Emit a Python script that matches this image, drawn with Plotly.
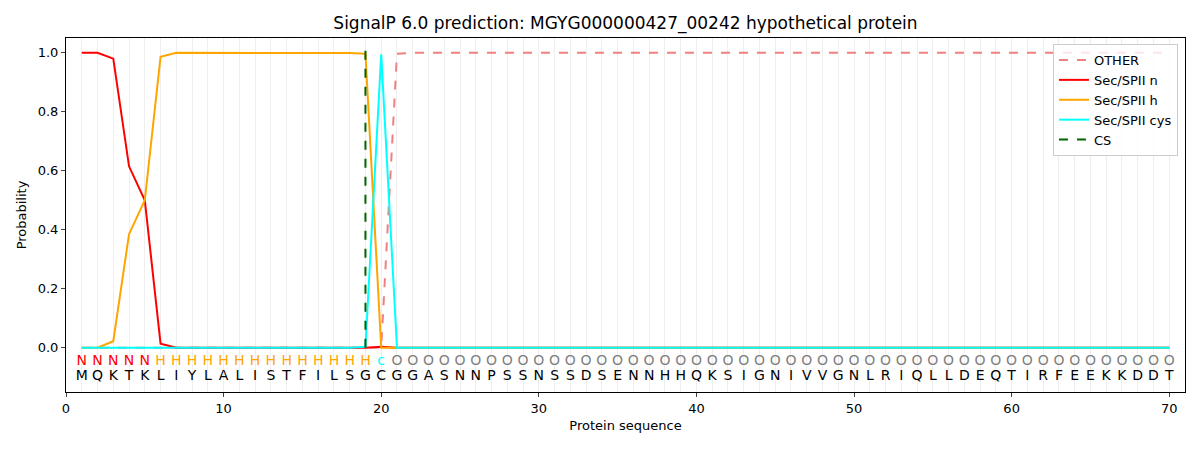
import numpy as np
import plotly.graph_objects as go

# sequence and per-residue region labels
sequence = list("MQKTKLIYLALISTFILSGCGGASNNPSSNSSDSENNHHQKSIGNIVVGNLRIQLLDEQTIRFEEKKDDT")
regions = list("NNNNN" + "H" * 14 + "c" + "O" * 50)
positions = list(range(1, len(sequence) + 1))

# probabilities
p_n = [1.0, 1.0, 0.98, 0.615, 0.50, 0.014] + [0.0] * 13 + [0.003] + [0.0] * 50
p_h = [0.0, 0.0, 0.022, 0.385, 0.50, 0.986] + [1.0] * 11 + [0.999, 0.997] + [0.0] * 51
p_cys = [0.0] * 18 + [0.003, 0.995] + [0.0] * 50
p_other = [0.0] * 20 + [0.997] + [1.0] * 49
cs_pos = 19

region_colors = {"N": "red", "H": "orange", "c": "cyan", "O": "gray"}

fig = go.Figure()

fig.add_trace(go.Scatter(x=positions, y=p_other, mode="lines", name="OTHER",
                         line=dict(color="#f08080", width=2, dash="dash")))
fig.add_trace(go.Scatter(x=positions, y=p_n, mode="lines", name="Sec/SPII n",
                         line=dict(color="red", width=2)))
fig.add_trace(go.Scatter(x=positions, y=p_h, mode="lines", name="Sec/SPII h",
                         line=dict(color="orange", width=2)))
fig.add_trace(go.Scatter(x=positions, y=p_cys, mode="lines", name="Sec/SPII cys",
                         line=dict(color="cyan", width=2)))
fig.add_trace(go.Scatter(x=[cs_pos, cs_pos], y=[0, 1.035], mode="lines", name="CS",
                         line=dict(color="darkgreen", width=2, dash="dash")))

# letters under the curves
fig.add_trace(go.Scatter(x=positions, y=[-0.045] * len(regions), mode="text",
                         text=regions, showlegend=False, hoverinfo="skip",
                         textfont=dict(size=14, family="DejaVu Sans",
                                       color=[region_colors[r] for r in regions])))
fig.add_trace(go.Scatter(x=positions, y=[-0.097] * len(sequence), mode="text",
                         text=sequence, showlegend=False, hoverinfo="skip",
                         textfont=dict(size=14, family="DejaVu Sans", color="black")))

# the page body adds an 8px offset, so margins are shifted to compensate
fig.update_layout(
    width=1200, height=450,
    margin=dict(l=58, r=23, t=30, b=66, autoexpand=False),
    paper_bgcolor="white", plot_bgcolor="white",
    font=dict(family="DejaVu Sans", size=13, color="black"),
    title=dict(text="SignalP 6.0 prediction: MGYG000000427_00242 hypothetical protein",
               x=0.5, xref="paper", xanchor="center", y=0.967, yref="container",
               yanchor="middle", font=dict(size=17)),
    legend=dict(x=0.9937, y=0.983, xanchor="right", yanchor="top",
                bgcolor="rgba(255,255,255,0.8)", bordercolor="#cccccc", borderwidth=1,
                font=dict(size=13), tracegroupgap=0, itemwidth=30),
    showlegend=True,
)

fig.update_xaxes(range=[0, 71], tickvals=[0, 10, 20, 30, 40, 50, 60, 70],
                 automargin=False,
                 showline=True, linecolor="black", linewidth=1, mirror=True,
                 ticks="outside", ticklen=4, tickfont=dict(size=13),
                 showgrid=True, gridcolor="#eeeeee", gridwidth=1,
                 minor=dict(tick0=0, dtick=1, showgrid=True, gridcolor="#eeeeee", gridwidth=1),
                 zeroline=False,
                 title=dict(text="Protein sequence", font=dict(size=13), standoff=6))
fig.update_yaxes(range=[-0.15, 1.05], tickvals=[0, 0.2, 0.4, 0.6, 0.8, 1.0],
                 tickformat=".1f", automargin=False,
                 showline=True, linecolor="black", linewidth=1, mirror=True,
                 ticks="outside", ticklen=4, tickfont=dict(size=13),
                 showgrid=False, zeroline=False,
                 title=dict(text="Probability", font=dict(size=13), standoff=8))

fig.write_html("out.html")
